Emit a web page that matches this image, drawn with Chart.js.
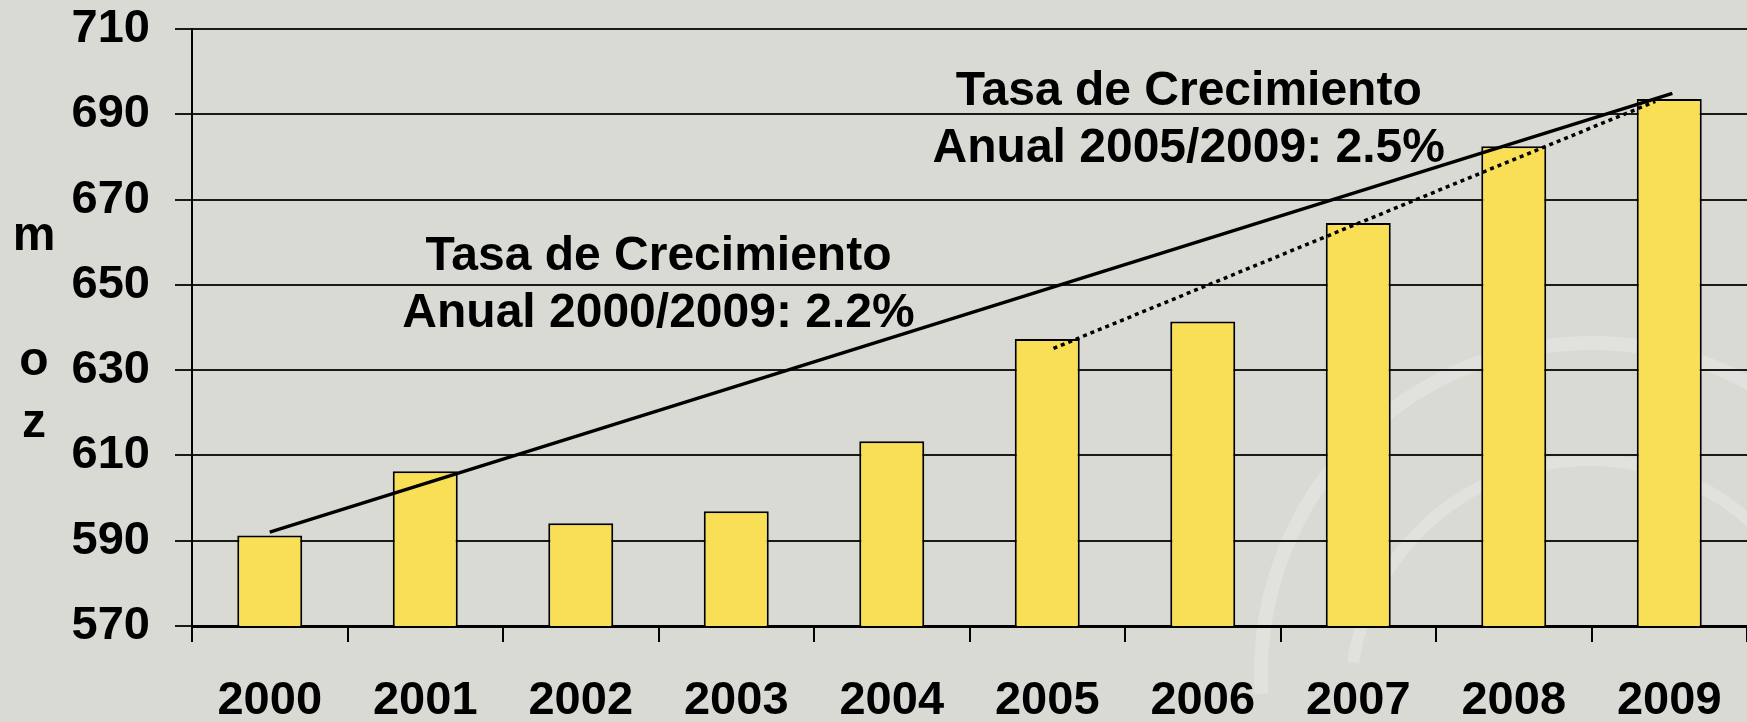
<!DOCTYPE html>
<html>
<head>
<meta charset="utf-8">
<script src="https://cdn.jsdelivr.net/npm/chart.js@4"></script>
<style>
  html, body { margin: 0; padding: 0; background: #dadad5; }
  #wrap { width: 1747px; height: 722px; }
</style>
</head>
<body>
<div id="wrap"><canvas id="prodChart" width="1747" height="722"></canvas></div>
<script>
// production per year (moz)
const years = ["2000", "2001", "2002", "2003", "2004", "2005", "2006", "2007", "2008", "2009"];
const production = [591.2, 606.3, 594.1, 596.9, 613.3, 637.3, 641.4, 664.5, 682.5, 693.6];
const yTicks = [570, 590, 610, 630, 650, 670, 690, 710];

// trend lines (x = category index)
const trendAllX = [0, 9.02];
const trendAllY = [592.0, 694.9];
const trendRecentX = [5.04, 8.91];
const trendRecentY = [635.1, 693.0];

// annotations
const noteAll = ["Tasa de Crecimiento", "Anual 2000/2009: 2.2%"];
const noteRecent = ["Tasa de Crecimiento", "Anual 2005/2009: 2.5%"];
const notePos = [{ x: 2.5, y: 653.4 }, { x: 5.91, y: 692.2 }];
const axisTitle = ["m", "", "o", "z"];

const FONT = "'Liberation Sans', Arial, sans-serif";

function toPoints(xs, ys) {
  return xs.map((x, i) => ({ x: x, y: ys[i] }));
}

const backdrop = {
  id: "backdrop",
  beforeDraw(chart) {
    const ctx = chart.ctx;
    ctx.save();
    ctx.fillStyle = "#dadad5";
    ctx.fillRect(0, 0, chart.width, chart.height);
    // faint logo watermark
    ctx.strokeStyle = "rgba(255,255,255,0.2)";
    ctx.lineWidth = 14;
    ctx.beginPath();
    ctx.arc(1591, 673, 330, Math.PI * 0.98, Math.PI * 2.02);
    ctx.stroke();
    ctx.lineWidth = 12;
    ctx.beginPath();
    ctx.arc(1590, 700, 240, Math.PI * 1.05, Math.PI * 1.95);
    ctx.stroke();
    ctx.restore();
  },
};

const notes = {
  id: "notes",
  afterDatasetsDraw(chart) {
    const ctx = chart.ctx;
    const xs = chart.scales.xt;
    const ys = chart.scales.y;
    ctx.save();
    ctx.fillStyle = "#000";
    ctx.font = "bold 48px " + FONT;
    ctx.textAlign = "center";
    ctx.textBaseline = "alphabetic";
    [noteAll, noteRecent].forEach((lines, k) => {
      const px = xs.getPixelForValue(notePos[k].x);
      const py = ys.getPixelForValue(notePos[k].y);
      lines.forEach((t, i) => ctx.fillText(t, px, py + i * 57));
    });
    // vertical axis title, one letter per line
    axisTitle.forEach((t, i) => ctx.fillText(t, 34, 250 + i * 62.3));
    ctx.restore();
  },
};

const ctx = document.getElementById("prodChart").getContext("2d");
new Chart(ctx, {
  data: {
    labels: years,
    datasets: [
      {
        type: "bar",
        data: production,
        backgroundColor: "#f9df55",
        borderColor: "#000",
        borderWidth: 2,
        borderSkipped: false,
        grouped: false,
        categoryPercentage: 1,
        barPercentage: 0.418,
        order: 2,
      },
      {
        type: "line",
        xAxisID: "xt",
        data: toPoints(trendAllX, trendAllY),
        borderColor: "#000",
        borderWidth: 3.4,
        pointRadius: 0,
        order: 1,
      },
      {
        type: "line",
        xAxisID: "xt",
        data: toPoints(trendRecentX, trendRecentY),
        borderColor: "#000",
        borderWidth: 3.5,
        borderDash: [4, 4],
        borderCapStyle: "butt",
        pointRadius: 0,
        order: 1,
      },
    ],
  },
  options: {
    responsive: false,
    animation: false,
    layout: { padding: 0 },
    plugins: {
      legend: { display: false },
      tooltip: { enabled: false },
      title: { display: false },
    },
    scales: {
      x: {
        type: "category",
        offset: true,
        grid: {
          offset: true,
          drawOnChartArea: false,
          drawTicks: true,
          tickLength: 16,
          color: "#000",
          lineWidth: 2,
        },
        border: { display: true, color: "#000", width: 3 },
        ticks: {
          color: "#000",
          font: { family: FONT, size: 47, weight: "bold" },
          padding: 31,
          maxRotation: 0,
          autoSkip: false,
        },
        afterFit(scale) {
          scale.height = 96;
          scale.paddingLeft = 0;
          scale.paddingRight = 0;
        },
      },
      xt: {
        type: "linear",
        min: -0.5,
        max: 9.5,
        display: false,
      },
      y: {
        min: 570,
        max: 710,
        afterBuildTicks(scale) {
          scale.ticks = yTicks.map((v) => ({ value: v }));
        },
        grid: {
          color: "#1a1a1a",
          lineWidth: 2,
          tickLength: 17,
        },
        border: { display: true, color: "#000", width: 2 },
        ticks: {
          color: "#000",
          font: { family: FONT, size: 47, weight: "bold" },
          padding: 25,
        },
        afterFit(scale) {
          scale.width = 192;
          scale.paddingTop = 29;
          scale.paddingBottom = 29;
        },
      },
    },
  },
  plugins: [backdrop, notes],
});
</script>
</body>
</html>
